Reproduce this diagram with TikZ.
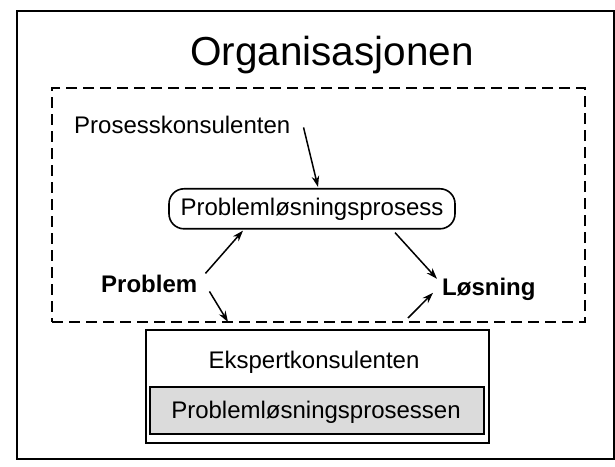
\documentclass[tikz,border=0pt]{standalone}
\usepackage{fontspec}
\setmainfont{Liberation Sans}
\usetikzlibrary{arrows.meta}
\tikzset{
  lbl/.style={inner sep=0pt, font=\fontsize{24}{28}\selectfont},
  blbl/.style={inner sep=0pt, font=\fontsize{24}{28}\selectfont\bfseries},
  arr/.style={line width=1.5pt, -{Stealth[length=11pt,width=7.5pt]}},
  frame/.style={draw, line width=2pt},
  dashframe/.style={draw, line width=1.6pt, dash pattern=on 11pt off 6pt},
  procbox/.style={draw, line width=1.6pt, rounded corners=15pt, minimum width=286pt, minimum height=40pt, inner sep=0pt, font=\fontsize{24}{28}\selectfont},
  expbox/.style={draw, line width=1.7pt, inner sep=0pt, minimum width=343pt, minimum height=113pt},
  graybox/.style={draw, line width=1.4pt, fill=gray!28, inner sep=0pt, minimum width=334pt, minimum height=47pt}
}
\begin{document}
\begin{tikzpicture}[x=1pt,y=-1pt]
\useasboundingbox (0,0) rectangle (615,466);
\fill[white] (0,0) rectangle (615,466);
% outer frame and dashed area
\node[frame, inner sep=0pt, minimum width=597pt, minimum height=448pt] (org) at (315.5,235) {};
\node[dashframe, inner sep=0pt, minimum width=533pt, minimum height=234pt] (area) at (318.5,205) {};
% title
\node[inner sep=0pt, anchor=base, font=\fontsize{40.5}{46}\selectfont] (title) at (332,65) {Organisasjonen};
% texts
\node[lbl, anchor=base west] (pros) at (74,133) {Prosesskonsulenten};
\node[procbox, anchor=base] (pls) at (312,215) {Problemløsningsprosess};
\node[blbl, anchor=base west] (prob) at (101,292) {Problem};
\node[blbl, anchor=base west] (los) at (442,295) {Løsning};
% expert box
\node[expbox] (exp) at (317.5,386.5) {};
\node[graybox] (gray) at (317,410.5) {};
\node[lbl, anchor=base] (ekspert) at (314,368) {Ekspertkonsulenten};
\node[lbl, anchor=base] (plsen) at (316,418) {Problemløsningsprosessen};
% connector end points on the dashed line
\coordinate (e1) at (228,322);
\coordinate (e2) at (408,318);
% arrows
\draw[arr] ([xshift=13pt,yshift=-3pt]pros.east) -- ([xshift=6pt,yshift=1pt]pls.north);
\draw[arr] ([xshift=8pt,yshift=10pt]prob.east) -- ([xshift=-69pt,yshift=-1pt]pls.south);
\draw[arr] ([xshift=83pt,yshift=-3pt]pls.south) -- ([xshift=-5pt,yshift=10pt]los.west);
\draw[arr] ([xshift=12pt,yshift=-8pt]prob.east) -- (e1);
\draw[arr] (e2) -- ([xshift=-9pt,yshift=-4pt]los.west);
\end{tikzpicture}
\end{document}
